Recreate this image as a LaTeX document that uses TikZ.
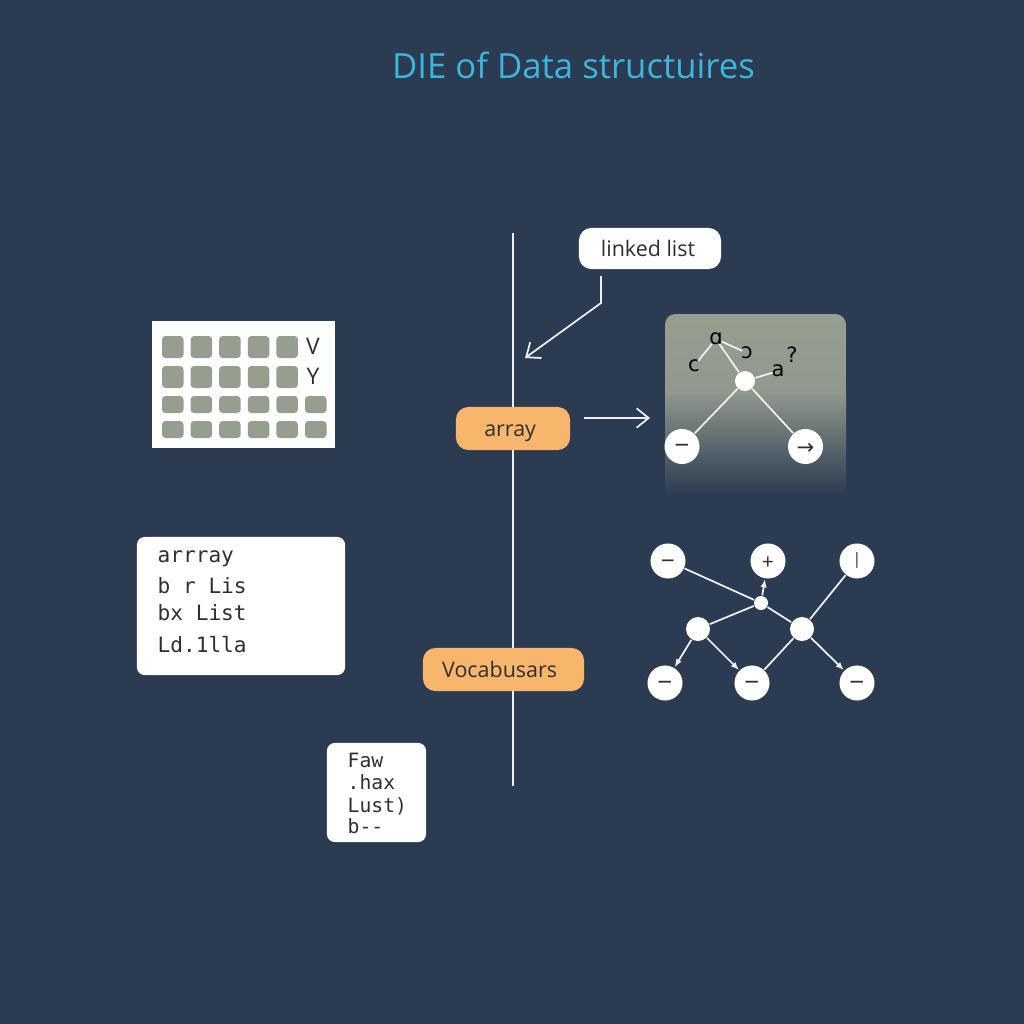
\documentclass[tikz,border=0pt]{standalone}
\usepackage{fontspec}
\setmainfont{Open Sans}
\setmonofont{DejaVu Sans Mono}
\newfontfamily\symfont{DejaVu Sans}
\usetikzlibrary{arrows.meta}
\definecolor{bgblue}{HTML}{2B3B52}
\definecolor{titleblue}{HTML}{3DB5DC}
\definecolor{pillorange}{HTML}{F8B56C}
\definecolor{cellgrey}{HTML}{969E90}
\definecolor{inkdark}{HTML}{2F2F2F}
\tikzset{
  wire/.style={draw=white!92!bgblue,line width=0.5pt},
  arrowwire/.style={wire,-{Straight Barb[length=3.4pt,width=5.5pt]}},
  smallarrow/.style={wire,-{Latex[length=2.4pt,width=1.8pt]}},
  pill/.style={rounded corners=3.5pt,inner sep=0pt,text=inkdark,text height=5.3pt,text depth=0.9pt,font=\fontsize{6.1}{7}\selectfont},
  whitebox/.style={fill=white,rounded corners=2.2pt,inner sep=0pt},
  circnode/.style={circle,fill=white,inner sep=0pt,minimum size=0.35cm,text=inkdark,text height=4.6pt,text depth=0pt,font=\fontsize{6}{7}\selectfont},
  dotnode/.style={circle,fill=white,inner sep=0pt},
  letter/.style={inner sep=0pt,outer sep=-0.3pt,text=black,font=\fontsize{6}{7}\symfont},
  codeline/.style={anchor=base west,inner sep=0pt,text=inkdark,font=\fontsize{6}{7}\ttfamily},
  smallline/.style={codeline,font=\fontsize{5.6}{7}\ttfamily},
}
\begin{document}
\begin{tikzpicture}[x=0.01cm,y=-0.01cm]
\useasboundingbox (0,0) rectangle (1024,1024);
\fill[bgblue] (0,0) rectangle (1024,1024);
\node[text=titleblue,inner sep=0pt,font=\fontsize{9.87}{12}\selectfont] (title) at (573.5,65) {DIE of Data structuires};

% centre line and labels
\coordinate (linetop) at (513,233);
\coordinate (linebottom) at (513,786);
\draw[wire] (linetop) -- (linebottom);
\node[pill,fill=white,minimum width=1.42cm,minimum height=0.41cm] (linked) at (650,248.5) {\kern-1.1pt linked list};
\node[pill,fill=pillorange,minimum width=1.14cm,minimum height=0.43cm] (arraypill) at (513,428.5) {\kern-1.6pt array};
\node[pill,fill=pillorange,minimum width=1.61cm,minimum height=0.43cm] (vocab) at (503.5,669.5) {\kern-2.2pt Vocabusars};
\coordinate (linkedout) at (601,276);
\coordinate (linkedbend) at (601,303);
\coordinate (linkedend) at (525,358);
\draw[arrowwire] (linkedout) -- (linkedbend) -- (linkedend);
\coordinate (arrayout) at (584,418);
\coordinate (arrayend) at (650,418);
\draw[arrowwire] (arrayout) -- (arrayend);

% grid panel
\node[fill=white,inner sep=0pt,minimum width=1.83cm,minimum height=1.27cm] (gridbox) at (243.5,384.5) {};
\foreach \col in {0,...,4}
  \foreach \row/\ytop in {0/336,1/366}
    \fill[cellgrey,rounded corners=1pt] (162+28.6*\col,\ytop) rectangle ++(21.5,22);
\foreach \col in {0,...,5}
  \foreach \row/\ytop in {2/396,3/421}
    \fill[cellgrey,rounded corners=1pt] (162+28.6*\col,\ytop) rectangle ++(21.5,17);
\node[inner sep=0pt,text=inkdark,font=\fontsize{6.5}{7}\selectfont] (gridv) at (313,346) {V};
\node[inner sep=0pt,text=inkdark,font=\fontsize{6.5}{7}\selectfont] (gridy) at (313,376) {Y};

% code boxes
\node[whitebox,minimum width=2.08cm,minimum height=1.38cm] (codebox) at (241,606) {};
\node[codeline] (codea) at (157,562) {arrray};
\node[codeline] (codeb) at (157,593) {b r Lis};
\node[codeline] (codec) at (157,620) {bx List};
\node[codeline] (coded) at (157,652) {Ld.1lla};
\node[whitebox,minimum width=0.99cm,minimum height=0.99cm] (smallbox) at (376.5,792.5) {};
\node[smallline] (smalla) at (347,767) {Faw};
\node[smallline] (smallb) at (347,789) {.hax};
\node[smallline] (smallc) at (347,812) {Lust)};
\node[smallline] (smalld) at (347,833) {b--};

% fading panel
\shade[top color=cellgrey,bottom color=cellgrey!95!bgblue] (665,394) [rounded corners=3pt] -- (665,314) -- (846,314) [sharp corners] -- (846,394) -- cycle;
\shade[top color=cellgrey!92!bgblue,bottom color=bgblue] (665,394) rectangle (846,495);
\node[dotnode,minimum size=0.2cm] (treehub) at (745,381) {};
\node[circnode] (treeleft) at (682,446.5) {\fontsize{7.5}{8}\selectfont −};
\node[circnode] (treeright) at (805.5,446.5) {\symfont →};
\node[letter] (lettero) at (716,339) {ɑ};
\node[letter] (letterc) at (694,366) {c};
\node[letter] (letterd) at (747,353) {ɔ};
\node[letter] (lettera) at (778,371) {a};
\node[letter] (letterq) at (792,355) {?};
\draw[wire] (letterc) -- (lettero);
\draw[wire] (lettero) -- (letterd);
\draw[wire] (lettero) -- (treehub);
\draw[wire] (treehub) -- (lettera);
\draw[wire] (treehub) -- (treeleft);
\draw[wire] (treehub) -- (treeright);

% graph
\node[circnode] (topa) at (668,561) {\fontsize{7}{8}\selectfont −};
\node[circnode] (topb) at (768,561) {+};
\node[circnode,text height=3pt,text depth=0.8pt] (topc) at (857,561) {\fontsize{4.5}{5}\selectfont |};
\node[dotnode,minimum size=0.14cm] (hub) at (761,603) {};
\node[dotnode,minimum size=0.24cm] (midl) at (698,629) {};
\node[dotnode,minimum size=0.24cm] (midr) at (802,629) {};
\node[circnode] (lowa) at (665,683) {\fontsize{7.5}{8}\selectfont −};
\node[circnode] (lowb) at (752,683) {\fontsize{7.5}{8}\selectfont −};
\node[circnode] (lowc) at (857,683) {\fontsize{7.5}{8}\selectfont −};
\draw[wire] (topa) -- (hub);
\draw[wire] (hub) -- (midl);
\draw[wire] (hub) -- (midr);
\draw[smallarrow] (hub) -- (topb);
\draw[wire] (topc) -- (midr);
\draw[wire] (midr) -- (lowb);
\draw[smallarrow] (midl) -- (lowa);
\draw[smallarrow] (midl) -- (lowb);
\draw[smallarrow] (midr) -- (lowc);
\end{tikzpicture}
\end{document}
